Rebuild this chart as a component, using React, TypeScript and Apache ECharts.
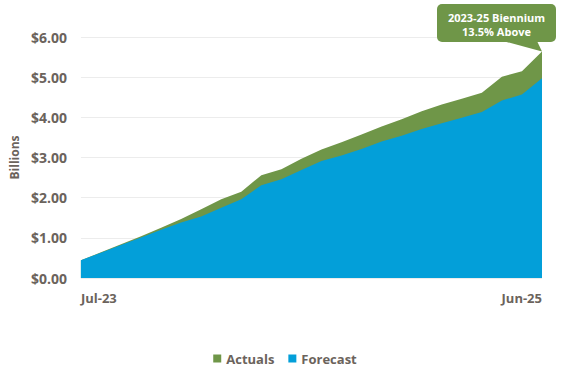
import React, { useEffect, useRef } from "react";
import * as echarts from "echarts";

const months = [
  "Jul-23", "Aug-23", "Sep-23", "Oct-23", "Nov-23", "Dec-23",
  "Jan-24", "Feb-24", "Mar-24", "Apr-24", "May-24", "Jun-24",
  "Jul-24", "Aug-24", "Sep-24", "Oct-24", "Nov-24", "Dec-24",
  "Jan-25", "Feb-25", "Mar-25", "Apr-25", "May-25", "Jun-25",
];
const actuals = [
  0.44, 0.64, 0.84, 1.04, 1.25, 1.47, 1.71, 1.96, 2.15, 2.56, 2.71, 2.97,
  3.2, 3.38, 3.57, 3.77, 3.95, 4.15, 4.32, 4.46, 4.61, 5.01, 5.15, 5.64,
];
const forecast = [
  0.44, 0.63, 0.82, 1.01, 1.2, 1.38, 1.53, 1.75, 1.96, 2.31, 2.46, 2.69,
  2.91, 3.05, 3.21, 3.4, 3.54, 3.71, 3.85, 3.99, 4.13, 4.42, 4.57, 4.97,
];
const calloutLines = ["2023-25 Biennium", "13.5% Above"];

const GREEN = "#6f9648";
const BLUE = "#039fd9";
const TEXT = "#6b635c";
const FONT = "'Open Sans', 'Noto Sans', sans-serif";

export default function App() {
  const ref = useRef<HTMLDivElement>(null);
  useEffect(() => {
    const chart = echarts.init(ref.current!, null, { renderer: "svg" });
    chart.setOption({
      animation: false,
      textStyle: { fontFamily: FONT },
      grid: { left: 76, right: 28, top: 37, bottom: 96 },
      legend: {
        top: 347,
        left: "center",
        itemWidth: 8,
        itemHeight: 8,
        itemGap: 14,
        icon: "rect",
        textStyle: { color: TEXT, fontSize: 13, fontWeight: "bold", fontFamily: FONT },
        data: ["Actuals", "Forecast"],
      },
      xAxis: {
        type: "category",
        data: months,
        boundaryGap: false,
        axisLine: { show: false },
        axisTick: { show: false },
        axisLabel: {
          interval: (i: number) => i === 0 || i === months.length - 1,
          alignMinLabel: "left",
          alignMaxLabel: "right",
          color: TEXT,
          fontSize: 13,
          fontWeight: "bold",
          margin: 13,
          fontFamily: FONT,
        },
      },
      yAxis: {
        type: "value",
        min: 0,
        max: 6,
        interval: 1,
        name: "Billions",
        nameLocation: "middle",
        nameRotate: 90,
        nameGap: 56,
        nameTextStyle: { color: TEXT, fontSize: 12, fontWeight: "bold", fontFamily: FONT },
        axisLine: { show: false },
        axisTick: { show: false },
        splitLine: { lineStyle: { color: "#ececec", width: 1 } },
        axisLabel: {
          formatter: (v: number) => "$" + v.toFixed(2),
          color: TEXT,
          fontSize: 14,
          fontWeight: "bold",
          margin: 14,
          fontFamily: FONT,
        },
      },
      series: [
        {
          name: "Actuals",
          type: "line",
          data: actuals,
          symbol: "none",
          lineStyle: { width: 0, color: GREEN },
          itemStyle: { color: GREEN },
          areaStyle: { color: GREEN, opacity: 1 },
          z: 1,
        },
        {
          name: "Forecast",
          type: "line",
          data: forecast,
          symbol: "none",
          lineStyle: { width: 0, color: BLUE },
          itemStyle: { color: BLUE },
          areaStyle: { color: BLUE, opacity: 1 },
          z: 2,
        },
      ],
    });

    const last = actuals.length - 1;
    const tip = chart.convertToPixel({ gridIndex: 0 }, [last, actuals[last]]) as number[];
    const bx = 437, by = 4, bw = 119, bh = 38;
    chart.setOption({
      graphic: [
        {
          type: "rect",
          shape: { x: bx, y: by, width: bw, height: bh, r: 5 },
          style: { fill: GREEN },
          z: 10,
        },
        {
          type: "polygon",
          shape: { points: [[bx + 66, by + bh - 1], [bx + 100, by + bh - 1], tip] },
          style: { fill: GREEN },
          z: 10,
        },
        {
          type: "text",
          x: bx + bw / 2,
          y: 17,
          style: {
            text: calloutLines[0],
            fill: "#ffffff",
            font: "bold 11px " + FONT,
            align: "center",
            verticalAlign: "middle",
          },
          z: 11,
        },
        {
          type: "text",
          x: bx + bw / 2,
          y: 31,
          style: {
            text: calloutLines[1],
            fill: "#ffffff",
            font: "bold 11px " + FONT,
            align: "center",
            verticalAlign: "middle",
          },
          z: 11,
        },
      ],
    });
    return () => chart.dispose();
  }, []);
  return (
    <div
      ref={ref}
      style={{ position: "absolute", left: 0, top: 0, width: 570, height: 374 }}
    />
  );
}
